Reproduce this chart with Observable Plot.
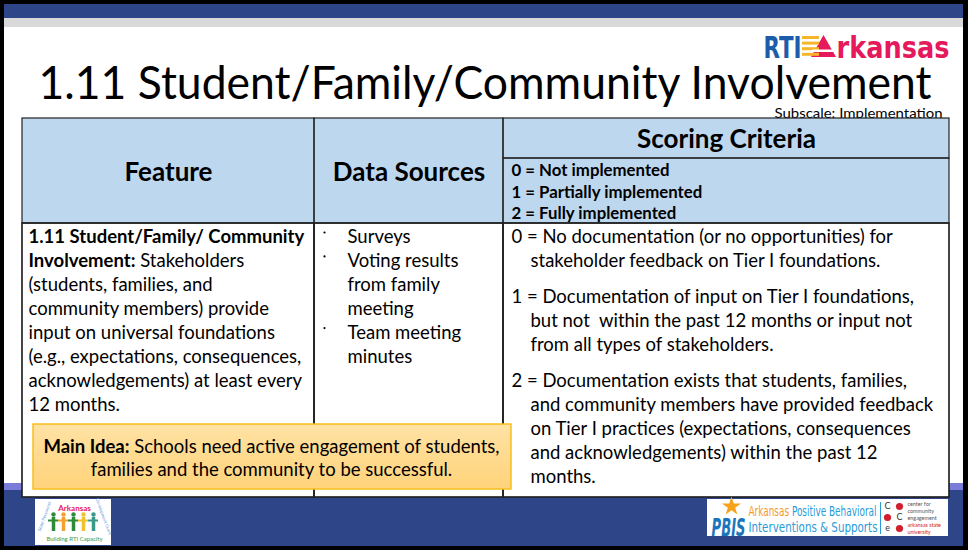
<!DOCTYPE html>
<html><head><meta charset="utf-8">
<script src="https://cdn.jsdelivr.net/npm/d3@7"></script>
<script src="https://cdn.jsdelivr.net/npm/@observablehq/plot@0.6"></script>
<style>html,body{margin:0;padding:0;background:#fff;overflow:hidden}</style>
</head><body><div id="chart"></div>
<script>
// ---------- content ----------
const title = "1.11 Student/Family/Community Involvement";
const subscale = "Subscale: Implementation";
const columnHeaders = ["Feature", "Data Sources", "Scoring Criteria"];
const scoreLevels = ["0 = Not implemented", "1 = Partially implemented", "2 = Fully implemented"];
const featureLines = [
  "**1.11 Student/Family/ Community**",
  "**Involvement:** Stakeholders",
  "(students, families, and",
  "community members) provide",
  "input on universal foundations",
  "(e.g., expectations, consequences,",
  "acknowledgements) at least every",
  "12 months."
];
const dataSources = [["Surveys"], ["Voting results", "from family", "meeting"], ["Team meeting", "minutes"]];
const criteria = [
  ["0 = No documentation (or no opportunities) for", "stakeholder feedback on Tier I foundations."],
  ["1 = Documentation of input on Tier I foundations,", "but not  within the past 12 months or input not", "from all types of stakeholders."],
  ["2 = Documentation exists that students, families,", "and community members have provided feedback", "on Tier I practices (expectations, consequences", "and acknowledgements) within the past 12", "months."]
];
const mainIdea = ["**Main Idea:** Schools need active engagement of students,", "families and the community to be successful."];
const logoWords = ["RTI", "rkansas"];
const pbisLines = ["##Arkansas## Positive Behavioral", "Interventions & Supports"];
const cceLines = ["center for", "community", "engagement", "arkansas state", "university"];

// ---------- layout ----------
const W = 968, H = 550;
const FONT = "Lato, 'Open Sans', sans-serif";
const COND = "'DejaVu Sans Condensed', 'Liberation Sans', sans-serif";
const NAVY = "#2E4587";
const T = {L: 22, c1: 314, c2: 503, R: 949, top: 118, mid: 158, hb: 223, bot: 497};
const LH = 23.9, BODY0 = 237, FS = 18.5;

const chrome = [
  {x1: 0, x2: W, y1: 0, y2: H, f: "#000"},
  {x1: 4, x2: 963, y1: 4, y2: 546, f: "#fff"},
  {x1: 4, x2: 963, y1: 4, y2: 18, f: NAVY},
  {x1: 4, x2: 963, y1: 18, y2: 27, f: "#D9D9D9"},
  {x1: 4, x2: 963, y1: 483, y2: 490, f: "#7B7BD9"},
  {x1: 4, x2: 963, y1: 490, y2: 546, f: NAVY}
];
const cells = [
  {x1: T.L, x2: T.R, y1: T.hb, y2: T.bot, f: "#fff"},
  {x1: T.L, x2: T.c1, y1: T.top, y2: T.hb, f: "#BDD7EE"},
  {x1: T.c1, x2: T.c2, y1: T.top, y2: T.hb, f: "#BDD7EE"},
  {x1: T.c2, x2: T.R, y1: T.top, y2: T.mid, f: "#BDD7EE"},
  {x1: T.c2, x2: T.R, y1: T.mid, y2: T.hb, f: "#BDD7EE"},
  {x1: T.L, x2: T.c1, y1: T.hb, y2: T.bot, f: "none"},
  {x1: T.c1, x2: T.c2, y1: T.hb, y2: T.bot, f: "none"},
  {x1: T.c2, x2: T.R, y1: T.hb, y2: T.bot, f: "none"}
];
const headerText = [
  {t: columnHeaders[0], x: (T.L + T.c1) / 2, y: 172},
  {t: columnHeaders[1], x: (T.c1 + T.c2) / 2, y: 172},
  {t: columnHeaders[2], x: (T.c2 + T.R) / 2, y: 139}
];
const levelText = scoreLevels.map((t, i) => ({t, x: T.c2 + 8, y: 170 + i * 21.7}));
const featText = featureLines.map((t, i) => ({t, x: T.L + 6, y: BODY0 + i * LH}));
const dsText = [];
{ let k = 0; dataSources.forEach(g => g.forEach((t, j) => { dsText.push({t, x: 347, y: BODY0 + k * LH, bullet: j === 0}); k++; })); }
const critText = [];
{ let y = BODY0; criteria.forEach(g => { g.forEach((t, j) => { critText.push({t, x: j === 0 ? T.c2 + 8 : T.c2 + 27, y}); y += 24; }); y += 12; }); }
const ideaText = mainIdea.map((t, i) => ({t, x: 271, y: 447 + i * 23}));

// logo pieces
const goldBars = [0, 1, 2, 3].map(i => ({y1: 36 + i * 5.6, y2: 39 + i * 5.6}));
const tri = [{x: 811, y: 57}, {x: 823.5, y: 35}, {x: 836, y: 57}];
const people = [
  {x: 53, c: "#2E8B3A"}, {x: 63, c: "#F2A12E"}, {x: 73, c: "#2E8B3A"}, {x: 83, c: "#F2C12E"}, {x: 93, c: "#3A9A8A"}
];
const cceMarks = [
  {l: "C", lx: 887, dx: 899, y: 506}, {l: "C", lx: 899, dx: 887, y: 517}, {l: "e", lx: 887, dx: 899, y: 528}
];

// text elements fitted to the widths measured in the reference
const fitWidths = new Map([
  [title, 893], [logoWords[0], 38], [logoWords[1], 113], ["PBIS", 34],
  [subscale, 168], [pbisLines[0], 128], [pbisLines[1], 129]
]);

const rectF = (data) => Plot.rect(data, {x1: "x1", x2: "x2", y1: "y1", y2: "y2", fill: "f"});

const plot = Plot.plot({
  width: W, height: H, margin: 0,
  x: {domain: [0, W], range: [0, W], axis: null},
  y: {domain: [0, H], range: [0, H], axis: null},
  color: {type: "identity"},
  style: {background: "white", fontFamily: FONT},
  marks: [
    rectF(chrome),
    // RTI Arkansas logo
    Plot.text([logoWords[0]], {x: 763, y: 57, text: d => d, textAnchor: "start", lineAnchor: "bottom", fill: "#1D5CAB", fontSize: 31, fontWeight: "bold", fontFamily: COND}),
    Plot.areaY(tri, {x: "x", y1: 57, y2: "y", fill: "#E5195B"}),
    Plot.rect(goldBars, {x1: 802, x2: 819, y1: "y1", y2: "y2", fill: "#F7B52C"}),
    Plot.rect([{y1: 49.5, y2: 52}], {x1: 812, x2: 835, y1: "y1", y2: "y2", fill: "#fff"}),
    Plot.text([logoWords[1]], {x: 836, y: 57, text: d => d, textAnchor: "start", lineAnchor: "bottom", fill: "#E5195B", fontSize: 31, fontWeight: "bold", fontFamily: COND}),
    // title
    Plot.text([title], {x: 38, y: 84, text: d => d, textAnchor: "start", fontSize: 46, fill: "#000"}),
    Plot.text([subscale], {x: 942, y: 113, text: d => d, textAnchor: "end", fontSize: 13.5, fill: "#000"}),
    // table
    rectF(cells),
    Plot.rect(cells.slice(1), {x1: "x1", x2: "x2", y1: "y1", y2: "y2", stroke: "#222", strokeWidth: 1.2}),
    Plot.rect(cells.slice(5), {x1: "x1", x2: "x2", y1: "y1", y2: "y2", stroke: "#222", strokeWidth: 1.2}),
    Plot.text(headerText, {x: "x", y: "y", text: "t", fontSize: 26, fontWeight: "bold", fill: "#000"}),
    Plot.text(levelText, {x: "x", y: "y", text: "t", textAnchor: "start", fontSize: 16.8, fontWeight: "bold", fill: "#000"}),
    Plot.text(featText, {x: "x", y: "y", text: "t", textAnchor: "start", fontSize: FS, fill: "#000"}),
    Plot.dot(dsText.filter(d => d.bullet), {x: 324, y: d => d.y - 5, r: 1.1, fill: "#000"}),
    Plot.text(dsText, {x: "x", y: "y", text: "t", textAnchor: "start", fontSize: FS, fill: "#000"}),
    Plot.text(critText, {x: "x", y: "y", text: "t", textAnchor: "start", fontSize: FS, fill: "#000"}),
    // main idea
    Plot.rect([mainIdea], {x1: 33, x2: 511, y1: 424, y2: 489, fill: "url(#ideaGrad)", stroke: "#F7BF1E", strokeWidth: 1.5}),
    Plot.text(ideaText, {x: "x", y: "y", text: "t", fontSize: FS, fill: "#000"}),
    // left footer logo
    Plot.rect([0], {x1: 35, x2: 111, y1: 499, y2: 545, fill: "#fff"}),
    Plot.text(["Arkansas"], {x: 74, y: 508, text: d => d, fontSize: 8, fontWeight: "bold", fill: "#E5195B"}),
    Plot.ruleX(people, {x: "x", y1: 517, y2: 531, stroke: "c", strokeWidth: 3.5}),
    Plot.ruleY(people, {x1: d => d.x - 5, x2: d => d.x + 5, y: 520, stroke: "c", strokeWidth: 2}),
    Plot.dot(people, {x: "x", y: 514, r: 2.2, fill: "c"}),
    Plot.text(["Building RTI Capacity"], {x: 74, y: 539, text: d => d, fontSize: 6, fill: "#3C9A3C"}),
    Plot.text(["State Personnel"], {x: 44, y: 516, text: d => d, fontSize: 4.5, rotate: -70, fill: "#6A9BD8"}),
    Plot.text(["Development Grant"], {x: 103, y: 516, text: d => d, fontSize: 4.5, rotate: 70, fill: "#6A9BD8"}),
    // right footer logo
    Plot.rect([0], {x1: 707, x2: 948, y1: 499, y2: 536, fill: "#fff"}),
    Plot.text(["PBIS"], {x: 711, y: 535, text: d => d, textAnchor: "start", lineAnchor: "bottom", fontSize: 25, fontWeight: "bold", fontStyle: "italic", fill: "#1B75BC", fontFamily: COND}),
    Plot.dot([0], {x: 731, y: 506, r: 6, symbol: "star", fill: "#F7A21B"}),
    Plot.text(pbisLines, {x: 748, y: (d, i) => 511 + i * 16, text: d => d, textAnchor: "start", fontSize: 14, fill: "#2A9BD8", fontFamily: COND}),
    Plot.ruleX([0], {x: 880, y1: 502, y2: 534, stroke: "#2A9BD8", strokeWidth: 1}),
    Plot.text(cceMarks, {x: "lx", y: "y", text: "l", fontSize: 9, fill: "#333"}),
    Plot.dot(cceMarks, {x: "dx", y: "y", r: 3.6, fill: "#D0202F"}),
    Plot.text(cceLines, {x: 907, y: (d, i) => 504 + i * 7, text: d => d, textAnchor: "start", fontSize: 5.4, fill: (d, i) => i < 3 ? "#555" : "#D0202F"})
  ]
});

// gradient + mixed-style text
const svg = d3.select(plot);
const defs = svg.insert("defs", ":first-child");
const g = defs.append("linearGradient").attr("id", "ideaGrad").attr("x1", 0).attr("y1", 0).attr("x2", 0).attr("y2", 1);
g.append("stop").attr("offset", "0%").attr("stop-color", "#FFE2A4");
g.append("stop").attr("offset", "100%").attr("stop-color", "#FFD37A");
svg.selectAll("text").each(function () {
  const t = this.textContent;
  if (fitWidths.has(t)) { this.setAttribute("textLength", fitWidths.get(t)); this.setAttribute("lengthAdjust", "spacingAndGlyphs"); }
  if (!t.includes("**") && !t.includes("##")) return;
  const orange = t.includes("##");
  const parts = t.split(orange ? "##" : "**");
  this.textContent = "";
  parts.forEach((p, i) => {
    if (!p) return;
    const ts = document.createElementNS("http://www.w3.org/2000/svg", "tspan");
    ts.textContent = p;
    if (i % 2 === 1) { if (orange) ts.setAttribute("fill", "#F39A2B"); else ts.setAttribute("font-weight", "bold"); }
    this.appendChild(ts);
  });
});
document.getElementById("chart").append(plot);
</script>
</body></html>
